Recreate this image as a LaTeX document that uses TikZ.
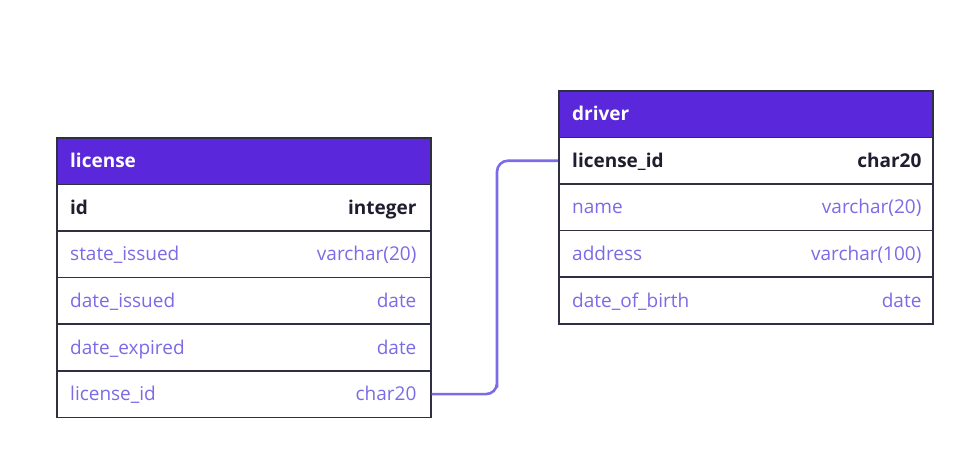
\documentclass[tikz,border=0pt]{standalone}
\usepackage{fontspec}
\setmainfont{Open Sans}
\definecolor{hdr}{HTML}{5B27DB}
\definecolor{lav}{HTML}{7B6BE6}
\definecolor{ink}{HTML}{1E1E2E}
\definecolor{bord}{HTML}{2F2F42}
\tikzset{
  rowbox/.style={draw=bord,line width=1.6pt,fill=white,minimum width=374pt,minimum height=46.6pt,inner sep=0pt,anchor=north west},
  hdrbox/.style={rowbox,fill=hdr},
  txt/.style={font=\fontsize{19}{22}\selectfont,text height=13pt,text depth=0pt,inner sep=0pt},
  lt/.style={txt,anchor=west,text=lav},
  rt/.style={txt,anchor=east,text=lav},
  ltb/.style={lt,text=ink,font=\fontsize{19}{22}\selectfont\bfseries},
  rtb/.style={rt,text=ink,font=\fontsize{19}{22}\selectfont\bfseries},
  ht/.style={lt,text=white,font=\fontsize{19}{22}\selectfont\bfseries},
  link/.style={draw=lav,line width=2.6pt,rounded corners=11pt}
}
\begin{document}
\begin{tikzpicture}[x=1pt,y=-1pt]
\useasboundingbox (0,0) rectangle (976,466);
% license table
\node[hdrbox] (lh) at (56,137) {};
\node[rowbox] (l1) at (56,183.6) {};
\node[rowbox] (l2) at (56,230.2) {};
\node[rowbox] (l3) at (56,276.8) {};
\node[rowbox] (l4) at (56,323.4) {};
\node[rowbox] (l5) at (56,370) {};
\node[ht] (lht) at ([xshift=14pt]lh.west) {license};
\node[ltb] (l1a) at ([xshift=14pt]l1.west) {id};
\node[rtb] (l1b) at ([xshift=-15pt]l1.east) {integer};
\node[lt] (l2a) at ([xshift=14pt]l2.west) {state\_issued};
\node[rt] (l2b) at ([xshift=-15pt]l2.east) {varchar(20)};
\node[lt] (l3a) at ([xshift=14pt]l3.west) {date\_issued};
\node[rt] (l3b) at ([xshift=-15pt]l3.east) {date};
\node[lt] (l4a) at ([xshift=14pt]l4.west) {date\_expired};
\node[rt] (l4b) at ([xshift=-15pt]l4.east) {date};
\node[lt] (l5a) at ([xshift=14pt]l5.west) {license\_id};
\node[rt] (l5b) at ([xshift=-15pt]l5.east) {char20};
% driver table
\node[hdrbox] (dh) at (558,90) {};
\node[rowbox] (d1) at (558,136.6) {};
\node[rowbox] (d2) at (558,183.2) {};
\node[rowbox] (d3) at (558,229.8) {};
\node[rowbox] (d4) at (558,276.4) {};
\node[ht] (dht) at ([xshift=14pt]dh.west) {driver};
\node[ltb] (d1a) at ([xshift=14pt]d1.west) {license\_id};
\node[rtb] (d1b) at ([xshift=-12pt]d1.east) {char20};
\node[lt] (d2a) at ([xshift=14pt]d2.west) {name};
\node[rt] (d2b) at ([xshift=-12pt]d2.east) {varchar(20)};
\node[lt] (d3a) at ([xshift=14pt]d3.west) {address};
\node[rt] (d3b) at ([xshift=-12pt]d3.east) {varchar(100)};
\node[lt] (d4a) at ([xshift=14pt]d4.west) {date\_of\_birth};
\node[rt] (d4b) at ([xshift=-12pt]d4.east) {date};
% connector
\coordinate (mid) at (497,0);
\draw[link] (l5.east) -| (mid |- l5.east) |- (d1.west);
\end{tikzpicture}
\end{document}
